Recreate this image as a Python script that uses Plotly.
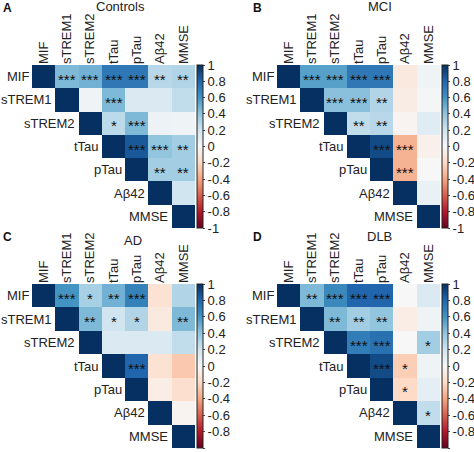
import plotly.graph_objects as go

labels = ["MIF", "sTREM1", "sTREM2", "tTau", "pTau", "Aβ42", "MMSE"]
cb_vals = [1, 0.8, 0.6, 0.4, 0.2, 0, -0.2, -0.4, -0.6, -0.8, -1]
cb_text = ["1", "0.8", "0.6", "0.4", "0.2", "0", "-0.2", "-0.4", "-0.6", "-0.8", "-1"]

N = None
controls_r = [
    [1, 0.45, 0.48, 0.72, 0.72, 0.28, 0.3],
    [N, 1, 0.04, 0.45, 0.15, 0.15, 0.25],
    [N, N, 1, 0.27, 0.45, 0.06, 0.05],
    [N, N, N, 1, 0.85, 0.4, 0.35],
    [N, N, N, N, 1, 0.35, 0.35],
    [N, N, N, N, N, 1, 0.2],
    [N, N, N, N, N, N, 1],
]
controls_p = [
    ["", "***", "***", "***", "***", "**", "**"],
    ["", "", "", "***", "", "", ""],
    ["", "", "", "*", "***", "", ""],
    ["", "", "", "", "***", "***", "**"],
    ["", "", "", "", "", "**", "**"],
    ["", "", "", "", "", "", ""],
    ["", "", "", "", "", "", ""],
]
mci_r = [
    [1, 0.55, 0.55, 0.72, 0.72, -0.1, 0.05],
    [N, 1, 0.42, 0.42, 0.3, -0.08, 0.02],
    [N, N, 1, 0.25, 0.28, -0.03, 0.12],
    [N, N, N, 1, 0.9, -0.35, -0.05],
    [N, N, N, N, 1, -0.35, 0.0],
    [N, N, N, N, N, 1, 0.07],
    [N, N, N, N, N, N, 1],
]
mci_p = [
    ["", "***", "***", "***", "***", "", ""],
    ["", "", "***", "***", "**", "", ""],
    ["", "", "", "**", "**", "", ""],
    ["", "", "", "", "***", "***", ""],
    ["", "", "", "", "", "***", ""],
    ["", "", "", "", "", "", ""],
    ["", "", "", "", "", "", ""],
]
ad_r = [
    [1, 0.6, 0.33, 0.48, 0.68, -0.15, 0.3],
    [N, 1, 0.45, 0.2, 0.3, -0.1, 0.45],
    [N, N, 1, 0.15, 0.15, 0.15, 0.25],
    [N, N, N, 1, 0.8, -0.15, -0.27],
    [N, N, N, N, 1, -0.07, -0.17],
    [N, N, N, N, N, 1, -0.03],
    [N, N, N, N, N, N, 1],
]
ad_p = [
    ["", "***", "*", "**", "***", "", ""],
    ["", "", "**", "*", "*", "", "**"],
    ["", "", "", "", "", "", ""],
    ["", "", "", "", "***", "", ""],
    ["", "", "", "", "", "", ""],
    ["", "", "", "", "", "", ""],
    ["", "", "", "", "", "", ""],
]
dlb_r = [
    [1, 0.45, 0.65, 0.8, 0.8, 0.0, 0.15],
    [N, 1, 0.45, 0.35, 0.4, -0.07, 0.05],
    [N, N, 1, 0.7, 0.75, 0.0, 0.35],
    [N, N, N, 1, 0.9, -0.25, 0.05],
    [N, N, N, N, 1, -0.2, 0.1],
    [N, N, N, N, N, 1, 0.25],
    [N, N, N, N, N, N, 1],
]
dlb_p = [
    ["", "**", "***", "***", "***", "", ""],
    ["", "", "**", "**", "**", "", ""],
    ["", "", "", "***", "***", "", "*"],
    ["", "", "", "", "***", "*", ""],
    ["", "", "", "", "", "*", ""],
    ["", "", "", "", "", "", "*"],
    ["", "", "", "", "", "", ""],
]

panels = [
    ("A", "Controls", controls_r, controls_p),
    ("B", "MCI", mci_r, mci_p),
    ("C", "AD", ad_r, ad_p),
    ("D", "DLB", dlb_r, dlb_p),
]

rdbu = ['rgb(103,0,31)', 'rgb(178,24,43)', 'rgb(214,96,77)', 'rgb(244,165,130)',
        'rgb(253,219,199)', 'rgb(247,247,247)', 'rgb(209,229,240)', 'rgb(146,197,222)',
        'rgb(67,147,195)', 'rgb(33,102,172)', 'rgb(5,48,97)']
cscale = [[i / 10, c] for i, c in enumerate(rdbu)]

W, H = 474, 452
# pixel boxes of heatmaps: (x0, x1, ytop, ybottom)
boxes = [(32, 195, 65, 228), (277, 440, 65, 228), (32, 195, 284, 448), (277, 440, 284, 448)]
letter_pos = [(1, 8), (251, 8), (1, 237), (251, 237)]
title_pos = [(120, 7), (380, 7), (133, 240), (379, 236)]

FONT = "Liberation Sans, Arial, sans-serif"
n = len(labels)
fig = go.Figure()
annotations = []
for k, ((letter, title, r, p), (x0, x1, yt, yb)) in enumerate(zip(panels, boxes)):
    ax = "" if k == 0 else str(k + 1)
    fig.add_trace(go.Heatmap(
        z=r, x=labels, y=labels, zmin=-1, zmax=1, colorscale=cscale,
        xaxis="x" + ax, yaxis="y" + ax, hoverongaps=False,
        colorbar=dict(
            x=(x1 + 2) / W, xanchor="left", y=1 - (yt + yb) / 2 / H, yanchor="middle",
            len=(yb - yt) / H, lenmode="fraction", thickness=6, thicknessmode="pixels",
            xpad=0, ypad=0, outlinewidth=1, outlinecolor="#222",
            tickvals=cb_vals, ticktext=cb_text, ticks="outside", ticklen=2,
            tickfont=dict(family=FONT, size=13, color="#222"),
        ),
    ))
    fig.update_layout(**{
        "xaxis" + ax: dict(domain=[x0 / W, x1 / W], side="top", tickangle=-90,
                          range=[-0.5, n - 0.5], autorange=False,
                          anchor="y" + ax, showgrid=False, zeroline=False, ticks="",
                          automargin=False,
                          tickfont=dict(family=FONT, size=13, color="#222")),
        "yaxis" + ax: dict(domain=[1 - yb / H, 1 - yt / H], range=[n - 0.5, -0.5],
                          autorange=False,
                          anchor="x" + ax, showticklabels=False, showgrid=False,
                          automargin=False, zeroline=False, ticks=""),
    })
    xr = "x" + ax
    yr = "y" + ax
    for i, lab in enumerate(labels):
        annotations.append(dict(text=lab, x=i / n - 0.008, y=1 - (i + 0.5) / n,
                                xref=xr + " domain", yref=yr + " domain",
                                xanchor="right", yanchor="middle", showarrow=False,
                                font=dict(family=FONT, size=13, color="#222")))
        for j in range(n):
            if p[i][j]:
                annotations.append(dict(text=p[i][j], x=j, y=i, xref=xr, yref=yr,
                                        xanchor="center", yanchor="middle", showarrow=False,
                                        yshift=-2.5,
                                        font=dict(family=FONT, size=15, color="#111")))
    lx, ly = letter_pos[k]
    annotations.append(dict(text="<b>" + letter + "</b>", x=lx / W, y=1 - ly / H,
                            xref="paper", yref="paper", xanchor="left", yanchor="middle",
                            showarrow=False, font=dict(family=FONT, size=12, color="#111")))
    tx, ty = title_pos[k]
    annotations.append(dict(text=title, x=tx / W, y=1 - ty / H,
                            xref="paper", yref="paper", xanchor="center", yanchor="middle",
                            showarrow=False, font=dict(family=FONT, size=13, color="#222")))

fig.update_layout(width=W, height=H, margin=dict(l=0, r=0, t=0, b=0, autoexpand=False),
                  paper_bgcolor="white", plot_bgcolor="white",
                  annotations=annotations, showlegend=False)
fig.write_html("out.html", config={"displayModeBar": False},
               post_script="document.body.style.margin='0';")
